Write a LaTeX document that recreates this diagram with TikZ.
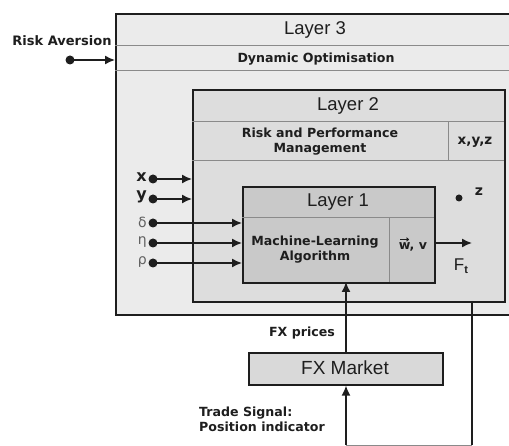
\documentclass[tikz,border=0pt]{standalone}
\usepackage{fontspec}
\setmainfont{Liberation Sans}
\newfontfamily\lblfont{DejaVu Sans}
\usetikzlibrary{arrows.meta}
\definecolor{lthree}{HTML}{EBEBEB}
\definecolor{ltwo}{HTML}{DDDDDD}
\definecolor{lone}{HTML}{C9C9C9}
\definecolor{mkt}{HTML}{D9D9D9}
\definecolor{rowline}{HTML}{8A8A8A}
\definecolor{ink}{HTML}{1E1E1E}
\tikzset{
  frame/.style={draw=ink, line width=1.6pt, anchor=north west, inner sep=0pt},
  rowsep/.style={draw=rowline, line width=1pt},
  title/.style={font=\fontsize{18.5}{21}\selectfont, text=ink, inner sep=1pt},
  boldlbl/.style={font=\lblfont\bfseries\fontsize{12.6}{15}\selectfont, text=ink, align=center, inner sep=1pt},
  varlbl/.style={font=\lblfont\fontsize{14}{16}\selectfont, text=ink!70, inner sep=1pt},
  conn/.style={draw=ink, line width=1.5pt, -{Latex[length=10pt,width=9pt]}},
  wire/.style={draw=ink, line width=1.5pt},
  pin/.style={circle, fill=ink, inner sep=0pt, minimum size=9pt},
}
\begin{document}
\begin{tikzpicture}[x=1pt, y=-1pt]
\useasboundingbox (0,0) rectangle (509,446);
\clip (0,0) rectangle (509,446);

% Layer 3 (runs past the right margin)
\node[frame, fill=lthree, minimum width=400pt, minimum height=301pt] (L3) at (115,13) {};
\draw[rowsep] (115,46) -- (515,46);
\draw[rowsep] (115,71) -- (515,71);
\node[title] (L3t) at (315,30) {Layer 3};
\node[boldlbl] (DO) at (316,59) {Dynamic Optimisation};

% Layer 2
\node[frame, fill=ltwo, minimum width=312pt, minimum height=212pt] (L2) at (192,89) {};
\draw[rowsep] (192,122) -- (504,122);
\draw[rowsep] (192,161) -- (504,161);
\draw[rowsep] (448,122) -- (448,161);
\node[title] (L2t) at (348,106) {Layer 2};
\node[boldlbl] (RPM) at (320,142) {Risk and Performance\\Management};
\node[boldlbl, font=\lblfont\bfseries\fontsize{13.5}{16}\selectfont] (xyz) at (475,142) {x,y,z};

% Layer 1
\node[frame, fill=lone, minimum width=192pt, minimum height=96pt] (L1) at (242,186) {};
\draw[rowsep] (242,218) -- (434,218);
\draw[rowsep] (389,218) -- (389,282);
\node[title] (L1t) at (338,202) {Layer 1};
\node[boldlbl] (MLA) at (315,250) {Machine-Learning\\Algorithm};
\node[boldlbl, inner sep=0pt] (wv) at (413,247) {w, v};
% vector arrow over the w
\draw[ink, line width=0.9pt, -{Straight Barb[length=2pt,width=3.5pt]}]
  ([xshift=1.5pt,yshift=3pt]wv.north west) -- ++(9,0);

% FX market
\node[frame, fill=mkt, minimum width=194pt, minimum height=32pt] (FX) at (248,352) {};
\node[title, font=\fontsize{19}{21}\selectfont] (FXt) at (345,368) {FX Market};

% Risk aversion input
\node[boldlbl, font=\lblfont\bfseries\fontsize{13}{15}\selectfont] (RA) at (62,41) {Risk Aversion};
\node[pin] (pRA) at (70,60) {};
\coordinate (eRA) at (115,60);
\draw[conn] (pRA.center) -- (eRA);

% inputs to Layer 2 and Layer 1
\foreach \nm/\yy/\tx/\tgt in {px/179/x/192, py/199/y/192}{
  \node[pin] (\nm) at (153,\yy) {};
  \node[boldlbl, font=\lblfont\bfseries\fontsize{16}{18}\selectfont, anchor=east] (l\nm) at (148,\yy-2) {\tx};
  \coordinate (e\nm) at (\tgt,\yy);
  \draw[conn] (\nm.center) -- (e\nm);
}
\foreach \nm/\yy/\tx in {pd/223/δ, pe/243/η, pr/263/ρ}{
  \node[pin] (\nm) at (153,\yy) {};
  \node[varlbl, anchor=east] (l\nm) at (148,\yy-1) {\tx};
  \coordinate (e\nm) at (242,\yy);
  \draw[conn] (\nm.center) -- (e\nm);
}

% z and the output F_t
\node[pin, minimum size=7pt] (pz) at (459,198) {};
\node[boldlbl, font=\lblfont\bfseries\fontsize{14}{16}\selectfont] (lz) at (479,192) {z};
\coordinate (oF) at (434,243);
\coordinate (eF) at (472,243);
\draw[conn] (oF) -- (eF);
\node[title, font=\fontsize{17}{19}\selectfont] (Ft) at (461,266) {F\raisebox{-0.35ex}{\fontsize{11}{12}\selectfont\bfseries t}};

% price feed and trade signal loop
\coordinate (fxin) at (346,282);
\draw[conn] (FX.north -| fxin) -- (fxin);
\node[boldlbl] (FXp) at (302,333) {FX prices};
\coordinate (s1) at (472,301);
\coordinate (s2) at (472,445);
\coordinate (s3) at (346,445);
\draw[wire] (s1) -- (s2);
\draw[draw=rowline, line width=1pt] (s2) -- (s3);
\draw[conn] (s3) -- (s3 |- FX.south);
\node[boldlbl, align=left, anchor=west] (TS) at (198,419) {Trade Signal:\\Position indicator};
\end{tikzpicture}
\end{document}
